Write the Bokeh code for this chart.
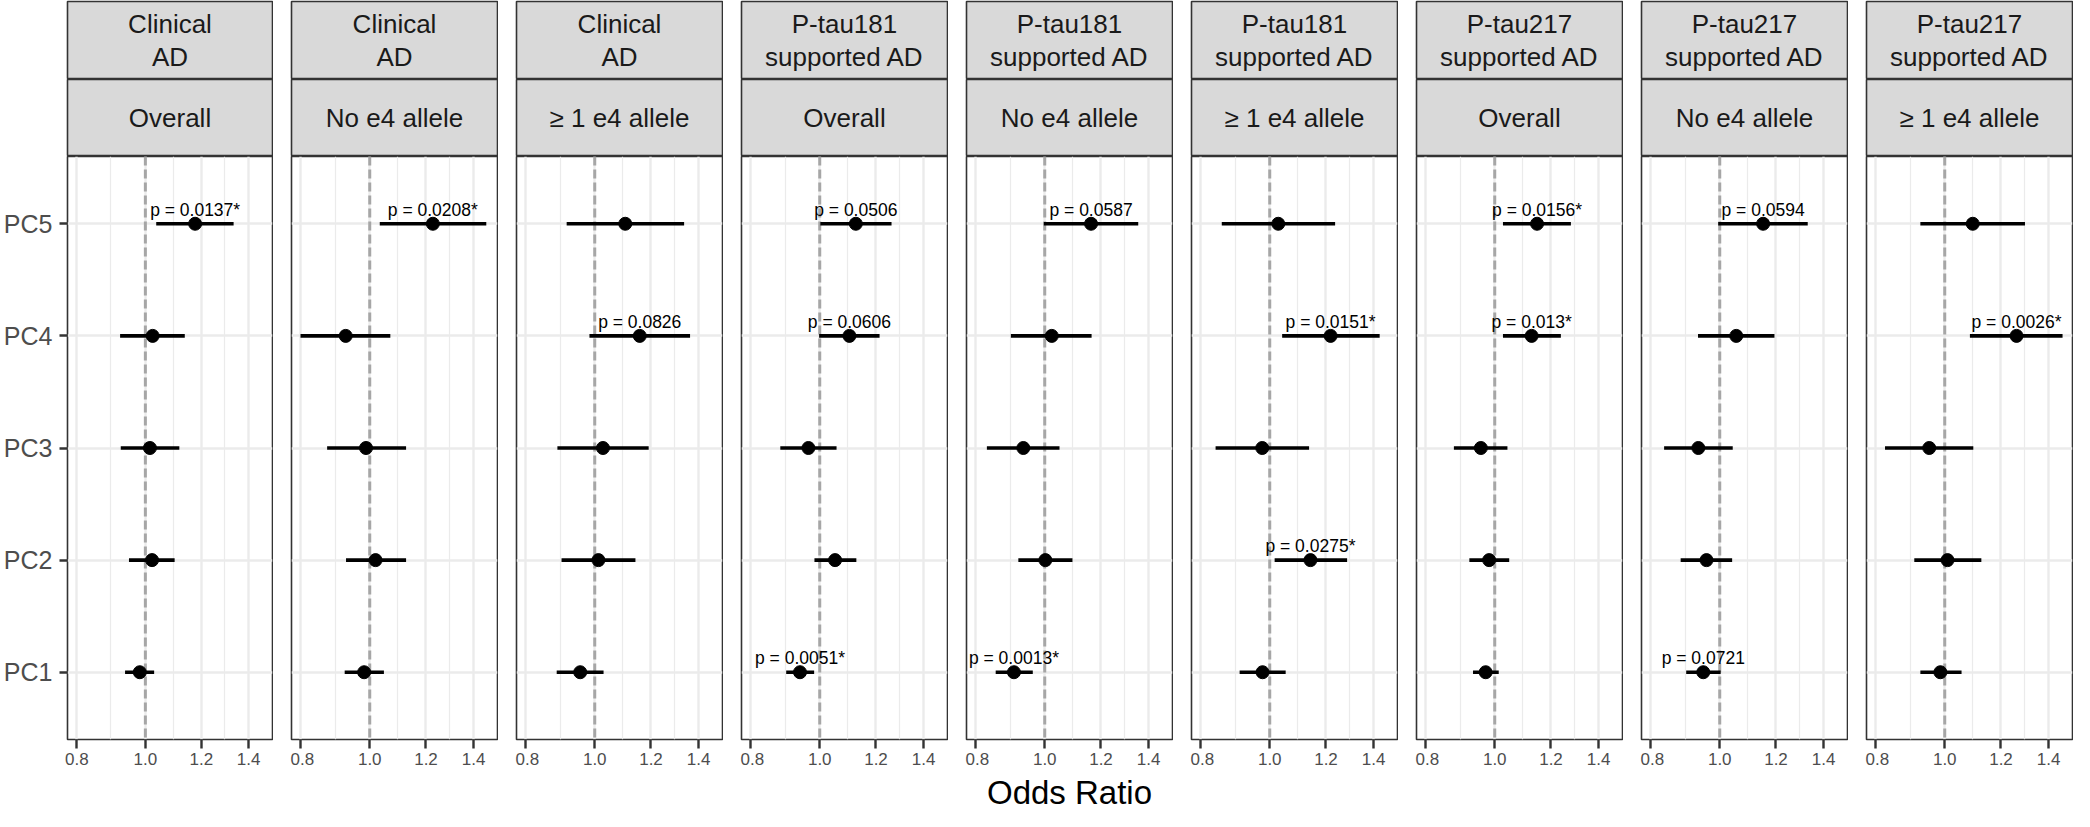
from bokeh.plotting import figure
from bokeh.models import (Range1d, FactorRange, FixedTicker, CustomJSTickFormatter,
                          Span, ColumnDataSource)
from bokeh.layouts import row, column
from bokeh.transform import dodge
from bokeh.core.properties import value
from bokeh.embed import file_html
from bokeh.resources import INLINE

FONT = "Liberation Sans"

# ---------------- data ----------------
pcs = ["PC1", "PC2", "PC3", "PC4", "PC5"]

strip_top = ["Clinical\nAD"] * 3 + ["P-tau181\nsupported AD"] * 3 + ["P-tau217\nsupported AD"] * 3
strip_bottom = ["Overall", "No e4 allele", "\u2265 1 e4 allele"] * 3

# odds ratios, lower / upper CI per panel, ordered PC1..PC5
odds = [
    [0.982, 1.022, 1.015, 1.024, 1.176],
    [0.982, 1.019, 0.988, 0.925, 1.227],
    [0.954, 1.012, 1.027, 1.157, 1.104],
    [0.938, 1.051, 0.964, 1.101, 1.124],
    [0.905, 1.002, 0.933, 1.023, 1.162],
    [0.977, 1.141, 0.976, 1.218, 1.028],
    [0.971, 0.982, 0.956, 1.127, 1.147],
    [0.948, 0.958, 0.933, 1.055, 1.151],
    [0.986, 1.009, 0.951, 1.262, 1.095],
]
lower = [
    [0.936, 0.948, 0.923, 0.921, 1.036],
    [0.922, 0.926, 0.871, 0.799, 1.033],
    [0.884, 0.898, 0.886, 0.983, 0.913],
    [0.897, 0.983, 0.880, 0.998, 1.002],
    [0.853, 0.918, 0.829, 0.896, 0.997],
    [0.907, 1.016, 0.839, 1.041, 0.856],
    [0.932, 0.921, 0.876, 1.027, 1.027],
    [0.897, 0.881, 0.835, 0.932, 0.995],
    [0.924, 0.906, 0.824, 1.085, 0.924],
]
upper = [
    [1.029, 1.100, 1.117, 1.137, 1.333],
    [1.047, 1.125, 1.125, 1.069, 1.459],
    [1.029, 1.141, 1.191, 1.362, 1.336],
    [0.982, 1.126, 1.056, 1.214, 1.262],
    [0.962, 1.094, 1.049, 1.164, 1.354],
    [1.053, 1.285, 1.136, 1.428, 1.236],
    [1.013, 1.048, 1.042, 1.239, 1.280],
    [1.003, 1.041, 1.043, 1.194, 1.330],
    [1.056, 1.126, 1.097, 1.465, 1.297],
]
plabels = [
    ["", "", "", "", "p = 0.0137*"],
    ["", "", "", "", "p = 0.0208*"],
    ["", "", "", "p = 0.0826", ""],
    ["p = 0.0051*", "", "", "p = 0.0606", "p = 0.0506"],
    ["p = 0.0013*", "", "", "", "p = 0.0587"],
    ["", "p = 0.0275*", "", "p = 0.0151*", ""],
    ["", "", "", "p = 0.013*", "p = 0.0156*"],
    ["p = 0.0721", "", "", "", "p = 0.0594"],
    ["", "", "", "p = 0.0026*", ""],
]

x_ticks = [0.8, 1.0, 1.2, 1.4]
x_minor = [0.894, 1.095, 1.296]
x_lo, x_hi = 0.776, 1.513
ref_or = 1.0
x_title = "Odds Ratio"

# ---------------- layout constants ----------------
FW = 206          # panel frame width
FH = 583          # panel frame height
LB = 66           # left border (y axis) of first panel
BB = 34           # bottom border (x axis)
S1 = 78           # strip 1 height
S2 = 77           # strip 2 height
GAP = 17

cols = []
for i in range(9):
    first = (i == 0)
    lb = LB if first else 1
    w = lb + FW + 1

    # strip 1
    s1 = figure(width=w, height=S1 + 1, x_range=Range1d(0, 1), y_range=Range1d(0, 1),
                x_axis_location=None, y_axis_location=None,
                toolbar_location=None, output_backend="svg",
                min_border_left=lb, min_border_right=1, min_border_top=1, min_border_bottom=0)
    s1.background_fill_color = "#D9D9D9"
    s1.border_fill_color = "white"
    s1.outline_line_color = "#333333"
    s1.outline_line_width = 1.6
    s1.grid.visible = False
    s1.text(x=[0.5], y=[0.5], text=[strip_top[i]], text_align="center", text_baseline="middle",
            text_font=value(FONT), text_font_size="26px", text_color="#1A1A1A",
            text_line_height=1.1)

    # strip 2
    s2 = figure(width=w, height=S2, x_range=Range1d(0, 1), y_range=Range1d(0, 1),
                x_axis_location=None, y_axis_location=None,
                toolbar_location=None, output_backend="svg",
                min_border_left=lb, min_border_right=1, min_border_top=0, min_border_bottom=0)
    s2.background_fill_color = "#D9D9D9"
    s2.border_fill_color = "white"
    s2.outline_line_color = "#333333"
    s2.outline_line_width = 1.6
    s2.grid.visible = False
    s2.text(x=[0.5], y=[0.5], text=[strip_bottom[i]], text_align="center", text_baseline="middle",
            text_font=value(FONT), text_font_size="26px", text_color="#1A1A1A")

    # data panel
    p = figure(width=w, height=FH + BB, x_axis_type="log", x_range=Range1d(x_lo, x_hi),
               y_range=FactorRange(factors=pcs, range_padding=0.1, range_padding_units="absolute"),
               y_axis_location="left" if first else None,
               toolbar_location=None, output_backend="svg",
               min_border_left=lb, min_border_right=1, min_border_top=0, min_border_bottom=BB)
    p.background_fill_color = "white"
    p.border_fill_color = "white"
    p.outline_line_color = "#333333"
    p.outline_line_width = 1.6

    tk = FixedTicker(ticks=x_ticks, minor_ticks=x_minor)
    p.xaxis.ticker = tk
    p.xgrid.ticker = tk
    p.xaxis.formatter = CustomJSTickFormatter(code="return tick.toFixed(1);")
    p.xaxis.axis_line_color = None
    p.xaxis.major_tick_line_color = "#333333"
    p.xaxis.major_tick_line_width = 2.4
    p.xaxis.major_tick_out = 9
    p.xaxis.major_tick_in = 0
    p.xaxis.minor_tick_out = 0
    p.xaxis.minor_tick_in = 0
    p.xaxis.major_label_standoff = 4
    p.xaxis.major_label_text_font = FONT
    p.xaxis.major_label_text_font_size = "17px"
    p.xaxis.major_label_text_color = "#4D4D4D"

    p.xgrid.grid_line_color = "#EBEBEB"
    p.xgrid.grid_line_width = 2.4
    p.xgrid.minor_grid_line_color = "#EBEBEB"
    p.xgrid.minor_grid_line_width = 1.2
    p.ygrid.grid_line_color = "#EBEBEB"
    p.ygrid.grid_line_width = 2.4

    if first:
        p.yaxis.axis_line_color = None
        p.yaxis.major_tick_line_color = "#333333"
        p.yaxis.major_tick_line_width = 2.4
        p.yaxis.major_tick_out = 8
        p.yaxis.major_tick_in = 0
        p.yaxis.major_label_standoff = 7
        p.yaxis.major_label_text_font = FONT
        p.yaxis.major_label_text_font_size = "25px"
        p.yaxis.major_label_text_color = "#4D4D4D"

    span = Span(location=ref_or, dimension="height", line_color="#A6A6A6",
                line_width=3, line_dash="9 4", level="underlay")
    p.add_layout(span)

    src = ColumnDataSource(dict(pc=pcs, orr=odds[i], lo=lower[i], hi=upper[i]))
    p.segment(x0="lo", y0="pc", x1="hi", y1="pc", source=src, line_color="black", line_width=3.6)
    p.scatter(x="orr", y="pc", source=src, size=13, fill_color="black", line_color="black")

    lab_pc = [pc for pc, l in zip(pcs, plabels[i]) if l]
    lab_x = [o for o, l in zip(odds[i], plabels[i]) if l]
    lab_t = [l for l in plabels[i] if l]
    lsrc = ColumnDataSource(dict(pc=lab_pc, x=lab_x, t=lab_t))
    p.text(x="x", y=dodge("pc", 0.125, range=p.y_range), text="t", source=lsrc,
           text_align="center", text_baseline="alphabetic",
           text_font=value(FONT), text_font_size="17.5px", text_color="black")

    cols.append(column(s1, s2, p, spacing=0))

panels = row(*cols, spacing=GAP)

total_w = LB + FW + 1 + 8 * (GAP + FW + 2)
tf = figure(width=total_w, height=38, x_range=Range1d(0, 1), y_range=Range1d(0, 1),
            x_axis_location=None, y_axis_location=None,
            toolbar_location=None, output_backend="svg",
            min_border_left=LB, min_border_right=1, min_border_top=0, min_border_bottom=0)
tf.outline_line_color = None
tf.grid.visible = False
tf.text(x=[0.5], y=[0.5], text=[x_title], text_align="center", text_baseline="middle",
        text_font=value(FONT), text_font_size="33px", text_color="black")

layout = column(panels, tf, spacing=0)

open("out.html", "w").write(file_html(layout, INLINE))
